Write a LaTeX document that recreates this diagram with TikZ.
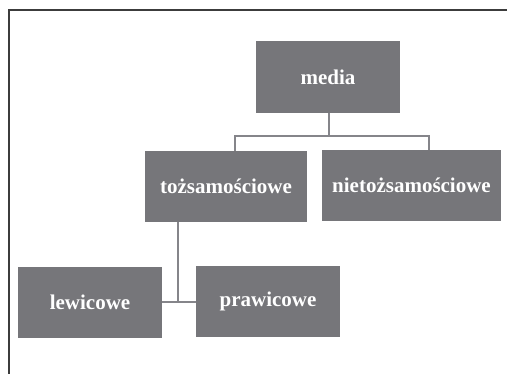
\documentclass[tikz,border=0pt]{standalone}
\usepackage{fontspec}
\setmainfont{Liberation Serif}
\usepackage{xcolor}
\usepackage{tikz}
\usetikzlibrary{positioning,calc}

\definecolor{boxgray}{HTML}{76767A}
\definecolor{linegray}{HTML}{85858A}
\definecolor{framegray}{HTML}{3C3C3C}

\begin{document}
\begin{tikzpicture}[
    x=1pt, y=-1pt,
    mbox/.style={rectangle, fill=boxgray, draw=none, inner sep=0pt,
                 minimum width=144pt, minimum height=71pt, text=white,
                 font=\fontsize{21}{25}\selectfont\bfseries},
    conn/.style={line width=1.6pt, linegray},
    frame/.style={line width=1.1pt, framegray}
]
    \useasboundingbox (0,0) rectangle (507,374);
    \draw[frame] (9,374) -- (9,10) -- (507,10);

    \node[mbox, minimum height=72pt] (media) at (328, 77)    {media};
    \node[mbox, minimum width=162pt] (toz)   at (226, 186.5) {tożsamościowe};
    \node[mbox, minimum width=179pt] (niet)  at (411.5, 185.5) {nietożsamościowe};
    \node[mbox] (lew) at (90, 302.5)  {lewicowe};
    \node[mbox] (prw) at (268, 301.5) {prawicowe};

    \coordinate (jm) at (329, 136);
    \coordinate (jt) at (235, 136);
    \coordinate (jn) at (429, 136);
    \coordinate (jb) at (178, 302);

    \draw[conn] (jm |- media.south) -- (jm);
    \draw[conn] (jt |- toz.north) -- (jt) -- (jn) -- (jn |- niet.north);
    \draw[conn] (jb |- toz.south) -- (jb);
    \draw[conn] (lew.east |- jb) -- (prw.west |- jb);
\end{tikzpicture}
\end{document}
